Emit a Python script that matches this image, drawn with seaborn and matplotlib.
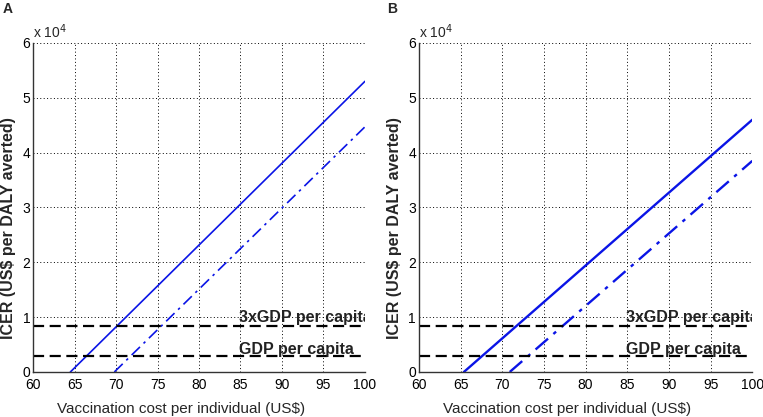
import pandas as pd
import seaborn as sns
import matplotlib.pyplot as plt
from matplotlib.ticker import FuncFormatter

# Vaccination cost (US$) and ICER (US$ per DALY averted) end points of each line
cost_a_solid = [64.5, 100]
icer_a_solid = [0, 53000]
cost_a_dash = [69.8, 100]
icer_a_dash = [0, 44700]

cost_b_solid = [65.4, 100]
icer_b_solid = [0, 46000]
cost_b_dash = [70.9, 100]
icer_b_dash = [0, 38500]

gdp_per_capita = 2850
gdp3_per_capita = 8400

panels = ["A", "B"]

sns.set_style("white")
plt.rcParams['font.family'] = ['Liberation Sans', 'DejaVu Sans']

fig = plt.figure(figsize=(7.63, 4.17), dpi=100)
ax_a = fig.add_axes([0.0433, 0.108, 0.435, 0.789])
ax_b = fig.add_axes([0.549, 0.108, 0.437, 0.789])

data = {
    "A": (cost_a_solid, icer_a_solid, cost_a_dash, icer_a_dash, 1.2),
    "B": (cost_b_solid, icer_b_solid, cost_b_dash, icer_b_dash, 1.7),
}

for ax, name in zip([ax_a, ax_b], panels):
    xs, ys, xd, yd, lw = data[name]
    df_s = pd.DataFrame({"cost": xs, "icer": ys})
    df_d = pd.DataFrame({"cost": xd, "icer": yd})
    sns.lineplot(data=df_s, x="cost", y="icer", ax=ax, color="#0a14e6", lw=lw)
    sns.lineplot(data=df_d, x="cost", y="icer", ax=ax, color="#0a14e6", lw=lw,
                 linestyle=(0, (7, 3, 1.5, 3)))
    ax.axhline(gdp3_per_capita, color="black", lw=1.6, ls=(0, (5, 2.5)))
    ax.axhline(gdp_per_capita, color="black", lw=1.6, ls=(0, (5, 2.5)))
    ax.text(84.8, gdp3_per_capita + 750, "3xGDP per capita", fontsize=11.5,
            fontweight="bold", va="baseline", ha="left", clip_on=True,
            color="#222222")
    ax.text(84.8, gdp_per_capita + 450, "GDP per capita", fontsize=11.5,
            fontweight="bold", va="baseline", ha="left", clip_on=True,
            color="#222222")

    ax.set_xlim(60, 100)
    ax.set_ylim(0, 60000)
    ax.set_xticks(range(60, 101, 5))
    ax.set_yticks(range(0, 60001, 10000))
    ax.yaxis.set_major_formatter(FuncFormatter(lambda v, p: f"{v/1e4:g}"))
    ax.grid(True, color="black", ls=(0, (1, 2.5)), lw=0.7)
    ax.tick_params(direction="in", length=3, labelsize=10, pad=2, colors="black")
    ax.tick_params(axis="x", pad=4)
    for s in ["top", "right"]:
        ax.spines[s].set_visible(False)
    for s in ["left", "bottom"]:
        ax.spines[s].set_color("#333333")
        ax.spines[s].set_linewidth(1.0)
    ax.set_xlabel("Vaccination cost per individual (US$)", fontsize=11)
    ax.set_ylabel("ICER (US$ per DALY averted)", fontsize=11.5, fontweight="bold")
    ax.xaxis.set_label_coords(0.445, -0.09)
    ax.yaxis.set_label_coords(-0.05, 0.438)
    ax.text(0.0, 1.005, "x 10$^{4}$", transform=ax.transAxes, fontsize=10,
            va="bottom", ha="left")

fig.text(0.004, 0.995, "A", fontsize=10, fontweight="bold", va="top", ha="left")
fig.text(0.507, 0.995, "B", fontsize=10, fontweight="bold", va="top", ha="left")

fig.savefig("out.png", dpi=100)
